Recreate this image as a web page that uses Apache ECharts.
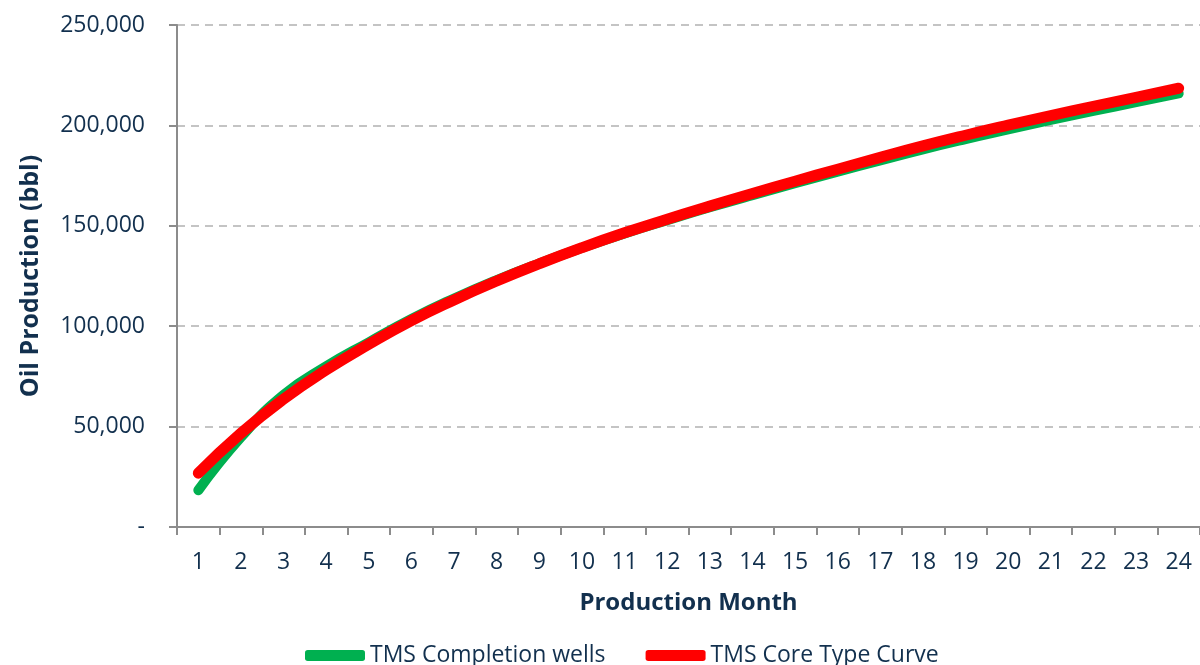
<!DOCTYPE html>
<html>
<head>
<meta charset="utf-8">
<script src="https://cdn.jsdelivr.net/npm/echarts@6/dist/echarts.min.js"></script>
<style>
  html, body { margin: 0; padding: 0; background: #fff; }
  #chart { width: 1200px; height: 665px; }
</style>
</head>
<body>
<div id="chart"></div>
<script>
// production months
const months = ['1', '2', '3', '4', '5', '6', '7', '8', '9', '10', '11', '12',
  '13', '14', '15', '16', '17', '18', '19', '20', '21', '22', '23', '24']

// cumulative oil, bbl
const completionWells = [18300, 44700, 65800, 80000, 92000, 103600, 113800, 123000,
  131300, 139000, 146200, 152800, 159200, 165300, 171200, 177000, 182600, 188100,
  193200, 198000, 202700, 207200, 211600, 215900]
const coreTypeCurve = [26800, 46700, 63700, 78200, 91000, 102800, 113100, 122500,
  131100, 139100, 146500, 153300, 159800, 166100, 172200, 178200, 184100, 189800,
  195100, 200100, 204900, 209500, 214000, 218500]

const textColor = '#12304e'
const font = 'Open Sans'

const chart = echarts.init(document.getElementById('chart'))
chart.setOption({
  animation: false,
  grid: {
    left: 177,
    top: 25,
    width: 1032,
    height: 502
  },
  legend: {
    bottom: -7,
    left: 300,
    itemWidth: 60,
    itemHeight: 11,
    itemGap: 40,
    icon: 'roundRect',
    textStyle: { color: textColor, fontFamily: font, fontSize: 23 },
    data: ['TMS Completion wells', 'TMS Core Type Curve']
  },
  xAxis: {
    type: 'category',
    data: months,
    boundaryGap: true,
    name: 'Production Month',
    nameLocation: 'middle',
    nameGap: 64,
    nameTextStyle: { color: textColor, fontFamily: font, fontSize: 24, fontWeight: 'bold' },
    axisLine: { lineStyle: { color: '#8c8c8c', width: 2 } },
    axisTick: { show: true, length: 8, lineStyle: { color: '#8c8c8c', width: 2 } },
    axisLabel: { color: textColor, fontFamily: font, fontSize: 23, margin: 24 },
    splitLine: { show: false }
  },
  yAxis: {
    type: 'value',
    min: 0,
    max: 250000,
    interval: 50000,
    name: 'Oil Production (bbl)',
    nameLocation: 'middle',
    nameGap: 134,
    nameTextStyle: { color: textColor, fontFamily: font, fontSize: 25, fontWeight: 'bold' },
    axisLine: { show: true, lineStyle: { color: '#8c8c8c', width: 2 } },
    axisTick: { show: true, length: 8, lineStyle: { color: '#8c8c8c', width: 2 } },
    axisLabel: {
      color: textColor,
      fontFamily: font,
      fontSize: 23,
      margin: 32,
      formatter: function (v) {
        return v === 0 ? '-' : v.toLocaleString('en-US')
      }
    },
    splitLine: { lineStyle: { color: '#c4c4c4', width: 2, type: [8, 6] } }
  },
  series: [
    {
      name: 'TMS Completion wells',
      type: 'line',
      data: completionWells,
      smooth: 0.5,
      symbol: 'none',
      itemStyle: { color: '#00b050' },
      lineStyle: { color: '#00b050', width: 10, cap: 'round', join: 'round' }
    },
    {
      name: 'TMS Core Type Curve',
      type: 'line',
      data: coreTypeCurve,
      smooth: 0.5,
      symbol: 'none',
      itemStyle: { color: '#ff0000' },
      lineStyle: { color: '#ff0000', width: 11, cap: 'round', join: 'round' }
    }
  ]
})
</script>
</body>
</html>
